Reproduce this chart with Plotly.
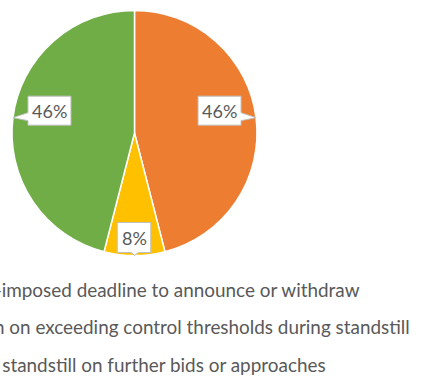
import math
import plotly.graph_objects as go

# Share of responses per standstill / deadline mechanism
categories = [
    "Code-imposed deadline to announce or withdraw",
    "Restriction on exceeding control thresholds during standstill",
    "Post-rejection standstill on further bids or approaches",
]
values = [46, 8, 46]
colors = ["#ED7D31", "#FFC000", "#70AD47"]

W, H = 421, 383
PIE_LEFT, PIE_RIGHT, PIE_TOP, PIE_BOTTOM = 12, 257, 10, 256
TEXT_GREY = "#595959"
BOX_LINE = "#BFBFBF"

fig = go.Figure(
    go.Pie(
        labels=categories,
        values=values,
        sort=False,
        direction="clockwise",
        rotation=0,
        marker=dict(colors=colors, line=dict(color="white", width=1.5)),
        textinfo="none",
        hoverinfo="label+percent",
        showlegend=False,
        domain=dict(
            x=[PIE_LEFT / W, PIE_RIGHT / W],
            y=[1 - PIE_BOTTOM / H, 1 - PIE_TOP / H],
        ),
    )
)


def px(x, y):
    return x / W, 1 - y / H


# Pie geometry in pixels
cx = (PIE_LEFT + PIE_RIGHT) / 2
cy = (PIE_TOP + PIE_BOTTOM) / 2
R = min(PIE_RIGHT - PIE_LEFT, PIE_BOTTOM - PIE_TOP) / 2

total = sum(values)
shapes = []
annotations = []
cum = 0
for v in values:
    frac = v / total
    theta = math.radians((cum + frac / 2) * 360)
    cum += frac
    label = f"{round(frac * 100)}%"
    tx = cx + R * math.sin(theta)
    ty = cy - R * math.cos(theta)
    bw = 9.5 * len(label) + 14.5
    if abs(math.sin(theta)) >= abs(math.cos(theta)):
        # callout to the side of a left/right slice
        bh = 29
        side = 1 if math.sin(theta) > 0 else -1
        edge = tx - side * 15
        x0, x1 = (edge - bw, edge) if side > 0 else (edge, edge + bw)
        y0, y1 = ty - 7 - bh / 2, ty - 7 + bh / 2
        b1, b2 = ty - 5, ty + 3
        if side > 0:
            pts = [(x0, y0), (x1, y0), (x1, b1), (tx, ty), (x1, b2), (x1, y1), (x0, y1)]
        else:
            pts = [(x1, y0), (x0, y0), (x0, b1), (tx, ty), (x0, b2), (x0, y1), (x1, y1)]
    else:
        # callout above/below a top/bottom slice
        bh = 30
        side = 1 if math.cos(theta) < 0 else -1
        edge = ty - side * 3
        y0, y1 = (edge - bh, edge) if side > 0 else (edge, edge + bh)
        x0, x1 = tx - 0.5 - bw / 2, tx - 0.5 + bw / 2
        b1, b2 = tx - 3, tx + 4
        if side > 0:
            pts = [(x0, y0), (x1, y0), (x1, y1), (b2, y1), (tx, ty), (b1, y1), (x0, y1)]
        else:
            pts = [(x0, y1), (x1, y1), (x1, y0), (b2, y0), (tx, ty), (b1, y0), (x0, y0)]
    path = "M " + " L ".join(f"{px(a, b)[0]:.5f},{px(a, b)[1]:.5f}" for a, b in pts) + " Z"
    shapes.append(
        dict(type="path", xref="paper", yref="paper", path=path,
             fillcolor="white", line=dict(color=BOX_LINE, width=1))
    )
    lx, ly = px((x0 + x1) / 2, (y0 + y1) / 2)
    annotations.append(
        dict(x=lx, y=ly, xref="paper", yref="paper", text=label, showarrow=False,
             xanchor="center", yanchor="middle",
             font=dict(family="Lato", size=18, color=TEXT_GREY))
    )

# Legend entries, right-aligned text rows below the pie
legend_right = [362, 412, 328]
legend_y = [289, 326, 364]
for name, xr, yc in zip(categories, legend_right, legend_y):
    lx, ly = px(xr, yc)
    annotations.append(
        dict(x=lx, y=ly, xref="paper", yref="paper", text=name, showarrow=False,
             xanchor="right", yanchor="middle",
             font=dict(family="Lato", size=18.9, color=TEXT_GREY))
    )

fig.update_layout(
    width=W,
    height=H,
    margin=dict(l=0, r=0, t=0, b=0),
    paper_bgcolor="white",
    plot_bgcolor="white",
    shapes=shapes,
    annotations=annotations,
)

fig.write_html("out.html")
